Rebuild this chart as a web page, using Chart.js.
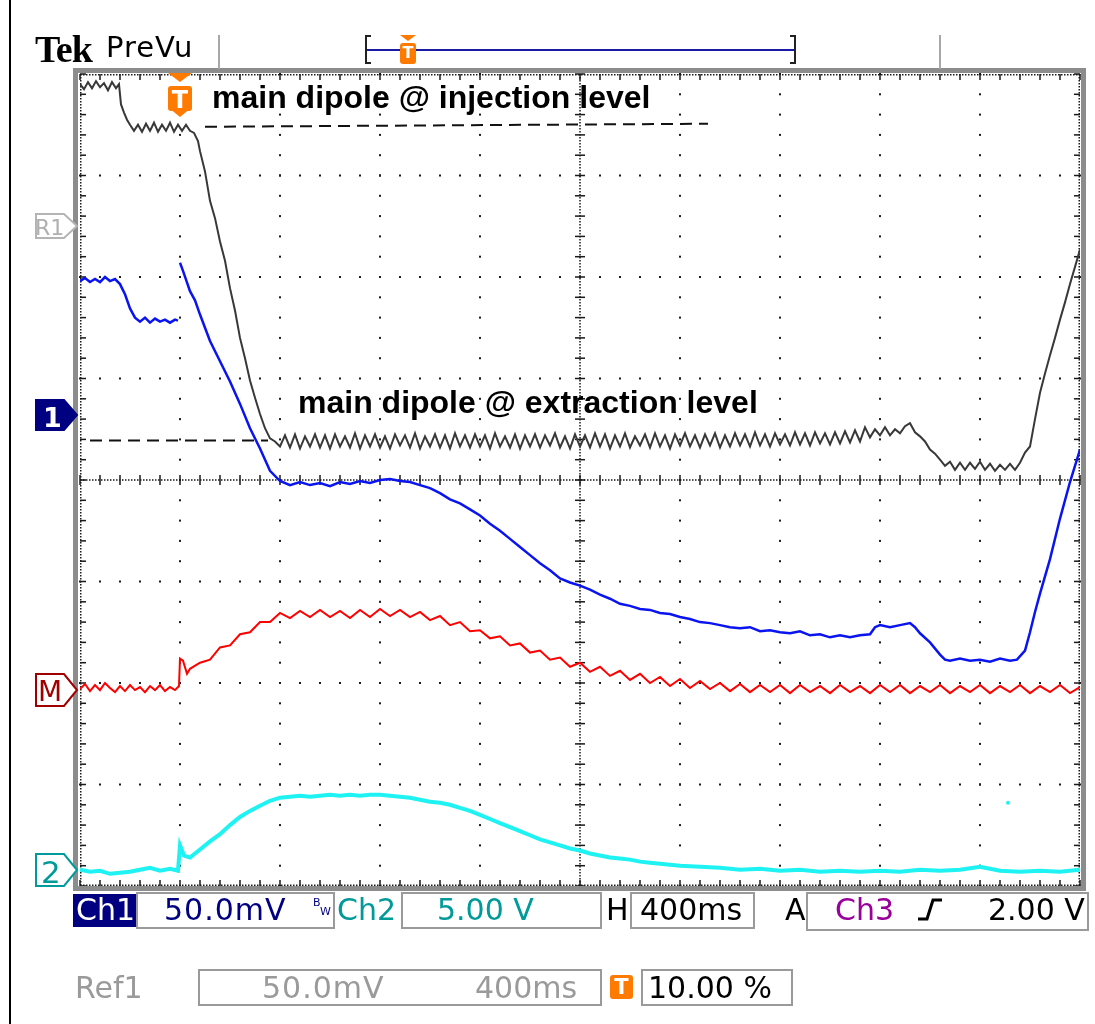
<!DOCTYPE html>
<html>
<head>
<meta charset="utf-8">
<title>Tek PreVu - main dipole</title>
<script src="https://cdn.jsdelivr.net/npm/chart.js@4.4.1/dist/chart.umd.min.js"></script>
<style>
  body { margin: 0; background: #fff; }
  #page { position: relative; width: 1095px; height: 1024px; overflow: hidden; background: #fff; }
  #wrap { position: absolute; left: 0; top: 0; width: 1095px; height: 1024px; }
  .lbl { position: absolute; white-space: nowrap; line-height: 1; font-family: "DejaVu Sans", sans-serif; font-size: 30px; }
  .note { font-family: "Liberation Sans", Arial, sans-serif; font-weight: bold; font-size: 32px; color: #000; }
  .tee { font-family: "DejaVu Sans", sans-serif; font-weight: bold; color: #fff; text-align: center; }
</style>
</head>
<body>
<div id="page">
  <div id="wrap"><canvas id="scope"></canvas></div>

  <!-- header -->
  <div class="lbl" style="left:35px;top:30px;font-family:'Liberation Serif',serif;font-weight:bold;font-size:38px;letter-spacing:-1px">Tek</div>
  <div class="lbl" style="left:106px;top:33px;font-size:29px;letter-spacing:1px">PreVu</div>
  <div class="lbl tee" style="left:400px;top:45px;width:16px;font-size:16px">T</div>

  <!-- annotations -->
  <div class="lbl note" style="left:212px;top:81px">main dipole @ injection level</div>
  <div class="lbl note" style="left:298px;top:386px">main dipole @ extraction level</div>
  <div class="lbl tee" style="left:168px;top:88px;width:24px;font-size:24px">T</div>

  <!-- channel markers -->
  <div class="lbl" style="left:35px;top:217px;font-size:22px;color:#b0b0b0">R1</div>
  <div class="lbl" style="left:43px;top:404px;font-size:27px;font-weight:bold;color:#fff">1</div>
  <div class="lbl" style="left:38px;top:678px;font-size:28px;color:#a00000">M</div>
  <div class="lbl" style="left:41px;top:857px;font-size:31px;color:#009a9a">2</div>

  <!-- status bar, row 1 -->
  <div class="lbl" style="left:76px;top:895px;color:#fff">Ch1</div>
  <div class="lbl" style="left:164px;top:895px;color:#000080;letter-spacing:1px">50.0mV</div>
  <div class="lbl" style="left:313px;top:897px;font-size:11px;color:#000080">B</div>
  <div class="lbl" style="left:320px;top:906px;font-size:11px;color:#000080">W</div>
  <div class="lbl" style="left:337px;top:895px;color:#009a9a">Ch2</div>
  <div class="lbl" style="left:437px;top:895px;color:#009a9a">5.00 V</div>
  <div class="lbl" style="left:606px;top:895px;color:#000">H</div>
  <div class="lbl" style="left:640px;top:895px;color:#000">400ms</div>
  <div class="lbl" style="left:785px;top:895px;color:#000">A</div>
  <div class="lbl" style="left:835px;top:895px;color:#990099">Ch3</div>
  <div class="lbl" style="left:988px;top:895px;color:#000">2.00 V</div>

  <!-- status bar, row 2 -->
  <div class="lbl" style="left:75px;top:973px;color:#9a9a9a">Ref1</div>
  <div class="lbl" style="left:262px;top:973px;color:#9a9a9a;letter-spacing:1px">50.0mV</div>
  <div class="lbl" style="left:475px;top:973px;color:#9a9a9a">400ms</div>
  <div class="lbl tee" style="left:610px;top:977px;width:23px;font-size:21px">T</div>
  <div class="lbl" style="left:648px;top:973px;color:#000">10.00 %</div>
</div>

<script>
// time in divisions (400 ms/div), level in divisions from screen centre

// Ref1 - main dipole current (stored reference)
const ref1Time = [0, 0.04, 0.08, 0.12, 0.16, 0.2, 0.24, 0.28, 0.32, 0.36, 0.39,
  0.41, 0.44, 0.47, 0.5,
  0.54, 0.58, 0.62, 0.66, 0.7, 0.74, 0.78, 0.82, 0.86, 0.9, 0.94, 0.98, 1.02, 1.06, 1.1, 1.14, 1.18,
  1.2, 1.25, 1.3, 1.35, 1.4, 1.45, 1.5, 1.55, 1.6, 1.65, 1.7, 1.75, 1.8, 1.85, 1.9, 1.95, 2.0,
  2.05, 2.1, 2.15, 2.2, 2.25, 2.3, 2.35, 2.4, 2.45, 2.5,
  2.55, 2.6, 2.65, 2.7, 2.75, 2.8, 2.85, 2.9, 2.95, 3.0,
  3.05, 3.1, 3.15, 3.2, 3.25, 3.3, 3.35, 3.4, 3.45, 3.5,
  3.55, 3.6, 3.65, 3.7, 3.75, 3.8, 3.85, 3.9, 3.95, 4.0,
  4.05, 4.1, 4.15, 4.2, 4.25, 4.3, 4.35, 4.4, 4.45, 4.5,
  4.55, 4.6, 4.65, 4.7, 4.75, 4.8, 4.85, 4.9, 4.95, 5.0,
  5.05, 5.1, 5.15, 5.2, 5.25, 5.3, 5.35, 5.4, 5.45, 5.5,
  5.55, 5.6, 5.65, 5.7, 5.75, 5.8, 5.85, 5.9, 5.95, 6.0,
  6.05, 6.1, 6.15, 6.2, 6.25, 6.3, 6.35, 6.4, 6.45, 6.5,
  6.55, 6.6, 6.65, 6.7, 6.75, 6.8, 6.85, 6.9, 6.95, 7.0,
  7.05, 7.1, 7.15, 7.2, 7.25, 7.3, 7.35, 7.4, 7.45, 7.5,
  7.55, 7.6, 7.65, 7.7, 7.75, 7.8, 7.85, 7.9,
  7.95, 8.0, 8.05, 8.1, 8.15, 8.2, 8.25, 8.3, 8.35, 8.4, 8.45, 8.5, 8.55, 8.6, 8.65,
  8.7, 8.75, 8.8, 8.85, 8.9, 8.95, 9.0, 9.05, 9.1, 9.15, 9.2, 9.25, 9.3, 9.35, 9.4,
  9.45, 9.5, 9.55, 9.6, 9.65, 9.7, 9.75, 9.8, 9.85, 9.9, 9.95, 10.0];
const ref1Level = [3.90, 3.85, 3.92, 3.86, 3.93, 3.87, 3.91, 3.84, 3.92, 3.86, 3.90,
  3.70, 3.62, 3.55, 3.50,
  3.44, 3.50, 3.43, 3.51, 3.44, 3.52, 3.43, 3.50, 3.44, 3.52, 3.43, 3.50, 3.44, 3.50, 3.44, 3.42, 3.34,
  3.24, 3.04, 2.75, 2.58, 2.35, 2.16, 1.89, 1.67, 1.40, 1.20, 0.98, 0.81, 0.65, 0.51, 0.41, 0.38, 0.33,
  0.44, 0.32, 0.45, 0.31, 0.43, 0.33, 0.45, 0.32, 0.44, 0.31,
  0.45, 0.33, 0.43, 0.32, 0.46, 0.31, 0.44, 0.33, 0.45, 0.32,
  0.43, 0.31, 0.45, 0.34, 0.44, 0.32, 0.46, 0.31, 0.43, 0.33,
  0.45, 0.32, 0.44, 0.31, 0.46, 0.33, 0.44, 0.32, 0.45, 0.33,
  0.44, 0.31, 0.46, 0.33, 0.43, 0.32, 0.45, 0.31, 0.44, 0.33,
  0.45, 0.32, 0.44, 0.34, 0.46, 0.32, 0.43, 0.31, 0.45, 0.33,
  0.44, 0.32, 0.46, 0.33, 0.45, 0.31, 0.44, 0.33, 0.46, 0.32,
  0.43, 0.34, 0.45, 0.32, 0.46, 0.33, 0.44, 0.31, 0.45, 0.34,
  0.46, 0.33, 0.44, 0.32, 0.45, 0.34, 0.46, 0.32, 0.44, 0.33,
  0.46, 0.34, 0.45, 0.33, 0.47, 0.34, 0.45, 0.33, 0.46, 0.35,
  0.45, 0.34, 0.47, 0.35, 0.46, 0.34, 0.47, 0.36, 0.46, 0.35,
  0.47, 0.36, 0.48, 0.37, 0.49, 0.38, 0.52, 0.42,
  0.50, 0.44, 0.52, 0.44, 0.50, 0.46, 0.53, 0.56, 0.47, 0.43, 0.38, 0.30, 0.26, 0.20, 0.14,
  0.18, 0.10, 0.17, 0.10, 0.17, 0.11, 0.18, 0.10, 0.16, 0.09, 0.15, 0.10, 0.16, 0.10, 0.17,
  0.27, 0.33, 0.60, 0.86, 1.05, 1.23, 1.40, 1.58, 1.75, 1.93, 2.10, 2.27];

// Ch1 - beam signal (gap at the trigger)
const ch1Time = [0, 0.05, 0.1, 0.15, 0.2, 0.25, 0.3, 0.35, 0.4, 0.45, 0.5, 0.55, 0.6, 0.65, 0.7, 0.75, 0.8, 0.85, 0.9, 0.95, 0.98, 0.99,
  1.0, 1.03, 1.1, 1.15, 1.2, 1.25, 1.3, 1.4, 1.5, 1.6, 1.7, 1.8, 1.9, 2.0,
  2.1, 2.2, 2.3, 2.4, 2.5, 2.6, 2.7, 2.8, 2.9, 3.0,
  3.1, 3.2, 3.3, 3.4, 3.5, 3.6, 3.7, 3.8, 3.9, 4.0,
  4.1, 4.2, 4.3, 4.4, 4.5, 4.6, 4.7, 4.8, 4.9, 5.0,
  5.1, 5.2, 5.3, 5.4, 5.5, 5.6, 5.7, 5.8, 5.9, 6.0,
  6.1, 6.2, 6.3, 6.4, 6.5, 6.6, 6.7, 6.8, 6.9, 7.0,
  7.1, 7.2, 7.3, 7.4, 7.5, 7.6, 7.7, 7.8, 7.9,
  7.95, 8.0, 8.1, 8.2, 8.3, 8.35, 8.4, 8.5, 8.6, 8.65, 8.7, 8.8, 8.9, 9.0, 9.1, 9.2, 9.3, 9.37,
  9.45, 9.5, 9.55, 9.6, 9.7, 9.8, 9.9, 10.0];
const ch1Level = [1.96, 1.99, 1.95, 1.98, 1.95, 2.00, 1.96, 1.98, 1.93, 1.83, 1.69, 1.60, 1.56, 1.60, 1.55, 1.59, 1.56, 1.58, 1.55, 1.58, 1.57, null,
  2.14, 2.06, 1.86, 1.77, 1.63, 1.50, 1.37, 1.17, 0.97, 0.75, 0.51, 0.31, 0.09, -0.01,
  -0.05, -0.02, -0.05, -0.03, -0.06, -0.02, -0.04, -0.01, -0.03, 0.00,
  0.01, -0.01, -0.02, -0.05, -0.08, -0.13, -0.19, -0.23, -0.29, -0.35,
  -0.43, -0.50, -0.58, -0.66, -0.74, -0.82, -0.89, -0.97, -1.01, -1.04,
  -1.08, -1.13, -1.17, -1.22, -1.24, -1.27, -1.28, -1.31, -1.32, -1.35,
  -1.37, -1.40, -1.41, -1.43, -1.45, -1.46, -1.45, -1.49, -1.48, -1.50,
  -1.51, -1.49, -1.53, -1.52, -1.55, -1.53, -1.55, -1.53, -1.52,
  -1.45, -1.43, -1.45, -1.43, -1.41, -1.45, -1.51, -1.60, -1.72, -1.77, -1.78, -1.76, -1.78, -1.77, -1.79, -1.76, -1.78, -1.77,
  -1.68, -1.50, -1.30, -1.12, -0.78, -0.38, -0.02, 0.30];

// M - math trace
const mathTime = [0, 0.05, 0.1, 0.15, 0.2, 0.25, 0.3, 0.35, 0.4, 0.45, 0.5, 0.55, 0.6, 0.65, 0.7, 0.75, 0.8, 0.85, 0.9, 0.95,
  0.99, 1.0, 1.03, 1.07,
  1.1, 1.2, 1.3, 1.4, 1.5, 1.6, 1.7, 1.8, 1.9, 2.0,
  2.1, 2.2, 2.3, 2.4, 2.5, 2.6, 2.7, 2.8, 2.9, 3.0,
  3.1, 3.2, 3.3, 3.4, 3.5, 3.6, 3.7, 3.8, 3.9, 4.0,
  4.1, 4.2, 4.3, 4.4, 4.5, 4.6, 4.7, 4.8, 4.9, 5.0,
  5.1, 5.2, 5.3, 5.4, 5.5, 5.6, 5.7, 5.8, 5.9, 6.0,
  6.1, 6.2, 6.3, 6.4, 6.5, 6.6, 6.7, 6.8, 6.9, 7.0,
  7.1, 7.2, 7.3, 7.4, 7.5, 7.6, 7.7, 7.8, 7.9, 8.0,
  8.1, 8.2, 8.3, 8.4, 8.5, 8.6, 8.7, 8.8, 8.9, 9.0,
  9.1, 9.2, 9.3, 9.4, 9.5, 9.6, 9.7, 9.8, 9.9, 10.0];
const mathLevel = [-2.06, -2.01, -2.08, -2.02, -2.07, -2.00, -2.05, -2.09, -2.03, -2.08, -2.02, -2.07, -2.04, -2.09, -2.03, -2.07, -2.02, -2.08, -2.04, -2.07,
  -2.03, -1.76, -1.78, -1.91,
  -1.86, -1.80, -1.77, -1.65, -1.63, -1.52, -1.50, -1.40, -1.40, -1.31,
  -1.36, -1.29, -1.35, -1.28, -1.35, -1.29, -1.36, -1.28, -1.35, -1.27,
  -1.34, -1.28, -1.35, -1.30, -1.38, -1.34, -1.43, -1.40, -1.49, -1.48,
  -1.56, -1.54, -1.63, -1.61, -1.70, -1.68, -1.77, -1.75, -1.84, -1.80,
  -1.89, -1.84, -1.93, -1.88, -1.97, -1.91, -2.00, -1.94, -2.03, -1.96,
  -2.05, -1.98, -2.06, -2.00, -2.08, -2.01, -2.09, -2.02, -2.09, -2.02,
  -2.10, -2.02, -2.09, -2.03, -2.10, -2.02, -2.09, -2.03, -2.10, -2.02,
  -2.09, -2.02, -2.10, -2.03, -2.09, -2.02, -2.10, -2.03, -2.09, -2.02,
  -2.10, -2.03, -2.09, -2.02, -2.10, -2.03, -2.09, -2.02, -2.10, -2.04];

// Ch2
const ch2Time = [0, 0.1, 0.2, 0.3, 0.4, 0.5, 0.6, 0.7, 0.8, 0.9, 0.98, 1.0, 1.04,
  1.1, 1.2, 1.3, 1.4, 1.5, 1.6, 1.7, 1.8, 1.9, 2.0,
  2.1, 2.2, 2.3, 2.4, 2.5, 2.6, 2.7, 2.8, 2.9, 3.0,
  3.1, 3.2, 3.3, 3.4, 3.5, 3.6, 3.7, 3.8, 3.9, 4.0,
  4.1, 4.2, 4.3, 4.4, 4.5, 4.6, 4.7, 4.8, 4.9, 5.0,
  5.1, 5.2, 5.3, 5.4, 5.5, 5.6, 5.7, 5.8, 5.9, 6.0,
  6.2, 6.4, 6.6, 6.8, 7.0, 7.2, 7.4, 7.6, 7.8, 8.0,
  8.2, 8.4, 8.6, 8.8, 9.0, 9.2, 9.4, 9.6, 9.8, 10.0];
const ch2Level = [-3.84, -3.86, -3.85, -3.88, -3.87, -3.86, -3.84, -3.82, -3.85, -3.83, -3.85, -3.60, -3.70,
  -3.72, -3.64, -3.56, -3.49, -3.40, -3.32, -3.26, -3.21, -3.16, -3.13,
  -3.12, -3.11, -3.12, -3.11, -3.10, -3.11, -3.10, -3.11, -3.10, -3.10,
  -3.11, -3.12, -3.13, -3.15, -3.17, -3.18, -3.20, -3.23, -3.26, -3.30,
  -3.34, -3.38, -3.42, -3.46, -3.50, -3.54, -3.57, -3.60, -3.63, -3.65,
  -3.68, -3.70, -3.72, -3.73, -3.74, -3.76, -3.77, -3.78, -3.79, -3.80,
  -3.81, -3.82, -3.84, -3.83, -3.85, -3.84, -3.86, -3.85, -3.86, -3.85,
  -3.86, -3.84, -3.85, -3.84, -3.81, -3.85, -3.86, -3.85, -3.86, -3.84];
const ch2StrayTime = [9.28];
const ch2StrayLevel = [-3.18];

// dashed level guides
const injectionTime = [1.25, 6.28];
const injectionLevel = [3.48, 3.51];
const extractionTime = [0.10, 1.88];
const extractionLevel = [0.39, 0.39];

function pairs(ts, vs) {
  return ts.map((t, i) => ({ x: t, y: vs[i] }));
}

// oscilloscope graticule: dotted majors, ticked centre cross and edges
const graticule = {
  id: "graticule",
  beforeDatasetsDraw(chart) {
    const { ctx, chartArea: a, scales: { x, y } } = chart;
    ctx.save();
    ctx.fillStyle = "#1a1a1a";
    const minorX = [], minorY = [];
    for (let i = 0; i <= 50; i++) minorX.push(x.getPixelForValue(i / 5));
    for (let j = 0; j <= 40; j++) minorY.push(y.getPixelForValue(-4 + j / 5));

    for (let d = 1; d < 10; d++) {
      if (d === 5) continue;
      const px = x.getPixelForValue(d);
      minorY.forEach(py => ctx.fillRect(px - 1, py - 1, 2, 2));
    }
    for (let d = -3; d <= 3; d++) {
      if (d === 0) continue;
      const py = y.getPixelForValue(d);
      minorX.forEach(px => ctx.fillRect(px - 1, py - 1, 2, 2));
    }

    const cx = x.getPixelForValue(5), cy = y.getPixelForValue(0);
    for (let p = a.left; p <= a.right; p += 3) ctx.fillRect(p, cy - 0.75, 1.5, 1.5);
    for (let p = a.top; p <= a.bottom; p += 3) ctx.fillRect(cx - 0.75, p, 1.5, 1.5);
    minorX.forEach(px => ctx.fillRect(px - 0.75, cy - 5, 1.5, 10));
    minorY.forEach(py => ctx.fillRect(cx - 5, py - 0.75, 10, 1.5));

    for (let p = a.left; p <= a.right; p += 3) {
      ctx.fillRect(p, a.top, 1.5, 1.5);
      ctx.fillRect(p, a.bottom - 1.5, 1.5, 1.5);
    }
    for (let p = a.top; p <= a.bottom; p += 3) {
      ctx.fillRect(a.left, p, 1.5, 1.5);
      ctx.fillRect(a.right - 1.5, p, 1.5, 1.5);
    }
    minorX.forEach(px => {
      ctx.fillRect(px - 0.75, a.top, 1.5, 6);
      ctx.fillRect(px - 0.75, a.bottom - 6, 1.5, 6);
    });
    minorY.forEach(py => {
      ctx.fillRect(a.left, py - 0.75, 6, 1.5);
      ctx.fillRect(a.right - 6, py - 0.75, 6, 1.5);
    });
    ctx.restore();
  }
};

// frame, markers, readout boxes
const panel = {
  id: "panel",
  afterDraw(chart) {
    const ctx = chart.ctx;
    const line = (x1, y1, x2, y2) => { ctx.beginPath(); ctx.moveTo(x1, y1); ctx.lineTo(x2, y2); ctx.stroke(); };
    const tag = (top, bottom, fill, stroke) => {
      const mid = (top + bottom) / 2;
      ctx.beginPath();
      ctx.moveTo(36, top); ctx.lineTo(64, top); ctx.lineTo(77, mid);
      ctx.lineTo(64, bottom); ctx.lineTo(36, bottom); ctx.closePath();
      ctx.fillStyle = fill; ctx.fill();
      ctx.lineWidth = 2; ctx.strokeStyle = stroke; ctx.stroke();
    };
    const orange = "#ff7a00";
    ctx.save();

    ctx.fillStyle = "#000";
    ctx.fillRect(9, 0, 2, 1024);

    ctx.strokeStyle = "#8c8c8c"; ctx.lineWidth = 5;
    ctx.strokeRect(75.5, 70.5, 1008, 818);

    ctx.fillStyle = "#a8a8a8";
    ctx.fillRect(218, 35, 2, 34);
    ctx.fillRect(939, 35, 2, 34);

    // record bar
    ctx.strokeStyle = "#1a1aa8"; ctx.lineWidth = 2;
    line(366, 50, 795, 50);
    ctx.strokeStyle = "#222"; ctx.lineWidth = 2;
    line(366, 35, 366, 64); line(366, 36, 371, 36); line(366, 63, 371, 63);
    line(795, 35, 795, 64); line(795, 36, 790, 36); line(795, 63, 790, 63);
    ctx.fillStyle = orange;
    ctx.beginPath(); ctx.moveTo(400, 35); ctx.lineTo(416, 35); ctx.lineTo(408, 41); ctx.closePath(); ctx.fill();
    ctx.beginPath(); ctx.roundRect(400, 43, 16, 21, 3); ctx.fill();

    // trigger marker on screen
    ctx.beginPath(); ctx.moveTo(168, 73); ctx.lineTo(192, 73); ctx.lineTo(180, 82); ctx.closePath(); ctx.fill();
    ctx.beginPath(); ctx.roundRect(168, 86, 24, 25, 3); ctx.fill();
    ctx.beginPath(); ctx.moveTo(169, 108); ctx.lineTo(191, 108); ctx.lineTo(180, 117); ctx.closePath(); ctx.fill();

    // channel tags
    tag(214, 238, "#fff", "#b4b4b4");
    tag(400, 430, "#000080", "#000080");
    tag(674, 706, "#fff", "#a00000");
    tag(854, 886, "#fff", "#009a9a");

    // readouts
    ctx.fillStyle = "#000080";
    ctx.fillRect(73, 894, 63, 33);
    ctx.strokeStyle = "#9a9a9a"; ctx.lineWidth = 2;
    ctx.strokeRect(137, 893, 197, 35);
    ctx.strokeRect(402, 893, 199, 35);
    ctx.strokeRect(631, 893, 123, 35);
    ctx.strokeRect(807, 893, 281, 37);
    ctx.strokeRect(199, 970, 402, 35);
    ctx.strokeRect(642, 970, 150, 35);
    ctx.fillStyle = orange;
    ctx.beginPath(); ctx.roundRect(610, 975, 23, 24, 3); ctx.fill();

    // slope symbol
    ctx.strokeStyle = "#000"; ctx.lineWidth = 3;
    ctx.beginPath();
    ctx.moveTo(918, 919); ctx.lineTo(927, 919); ctx.lineTo(933, 900); ctx.lineTo(942, 900);
    ctx.stroke();

    ctx.restore();
  }
};

function trace(data, color, width) {
  return {
    data: data, borderColor: color, backgroundColor: color, borderWidth: width,
    showLine: true, pointRadius: 0, tension: 0, spanGaps: false, fill: false
  };
}

const ctx = document.getElementById("scope").getContext("2d");
new Chart(ctx, {
  type: "scatter",
  data: {
    datasets: [
      trace(pairs(ch2Time, ch2Level), "#1ef2f2", 4),
      { data: pairs(ch2StrayTime, ch2StrayLevel), pointRadius: 2, backgroundColor: "#1ef2f2", borderWidth: 0, showLine: false },
      trace(pairs(mathTime, mathLevel), "#ff0000", 2),
      trace(pairs(ch1Time, ch1Level), "#0a14f0", 2.5),
      trace(pairs(ref1Time, ref1Level), "#383838", 2),
      Object.assign(trace(pairs(injectionTime, injectionLevel), "#111", 2), { borderDash: [12, 7] }),
      Object.assign(trace(pairs(extractionTime, extractionLevel), "#111", 2), { borderDash: [12, 7] })
    ]
  },
  options: {
    responsive: true,
    maintainAspectRatio: false,
    animation: false,
    layout: { padding: { left: 80, top: 74, right: 15, bottom: 138 } },
    plugins: { legend: { display: false }, tooltip: { enabled: false } },
    scales: {
      x: { type: "linear", min: 0, max: 10, display: false },
      y: { type: "linear", min: -4, max: 4, display: false }
    }
  },
  plugins: [graticule, panel]
});
</script>
</body>
</html>
